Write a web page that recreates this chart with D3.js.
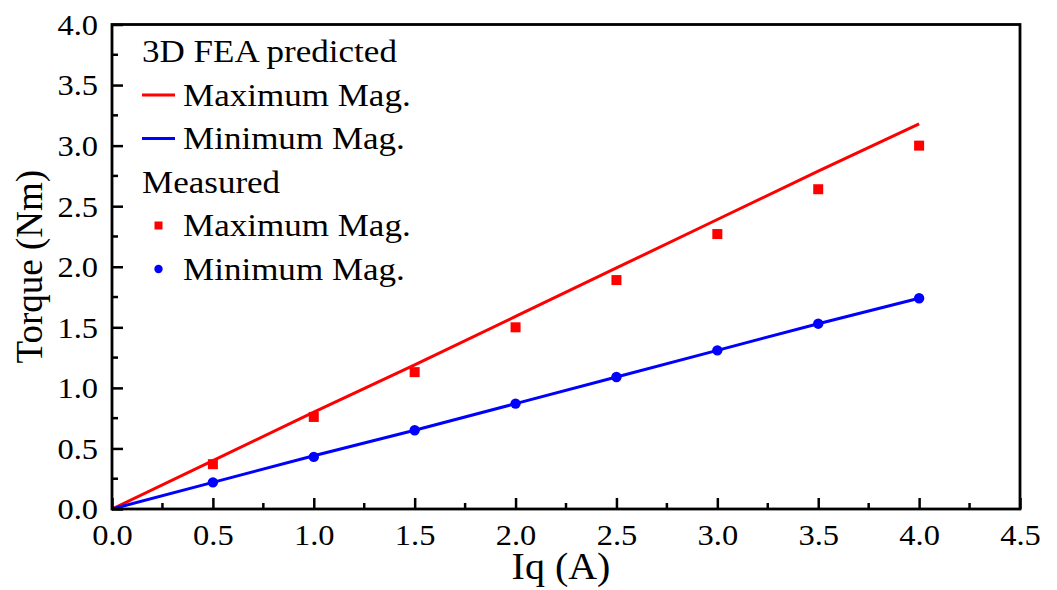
<!DOCTYPE html>
<html>
<head>
<meta charset="utf-8">
<script src="https://cdn.jsdelivr.net/npm/d3@7"></script>
<style>
  html, body { margin: 0; padding: 0; background: #ffffff; }
  svg { display: block; }
  text { font-family: "Liberation Serif", "Times New Roman", serif; fill: #000; }
</style>
</head>
<body>
<svg id="chart" width="1057" height="590"></svg>
<script>
// Current Iq (A) for the FEA curves, starting at the origin
const iqFea = [0, 0.5, 1.0, 1.5, 2.0, 2.5, 3.0, 3.5, 4.0];
// 3D FEA predicted torque (Nm)
const feaMax = [0, 0.40, 0.80, 1.19, 1.59, 1.99, 2.39, 2.79, 3.18];
const feaMin = [0, 0.22, 0.44, 0.65, 0.87, 1.09, 1.31, 1.53, 1.74];

// Measured torque (Nm)
const iqMeas = [0.5, 1.0, 1.5, 2.0, 2.5, 3.0, 3.5, 4.0];
const measMax = [0.37, 0.76, 1.13, 1.50, 1.89, 2.27, 2.64, 3.00];
const measMin = [0.22, 0.43, 0.65, 0.87, 1.09, 1.31, 1.53, 1.74];

// Axis ticks
const xTicks = [0, 0.5, 1.0, 1.5, 2.0, 2.5, 3.0, 3.5, 4.0, 4.5];
const yTicks = [0, 0.5, 1.0, 1.5, 2.0, 2.5, 3.0, 3.5, 4.0];
const xMinor = [0.25, 0.75, 1.25, 1.75, 2.25, 2.75, 3.25, 3.75, 4.25];
const yMinor = [0.25, 0.75, 1.25, 1.75, 2.25, 2.75, 3.25, 3.75];

const xTitle = "Iq (A)";
const yTitle = "Torque (Nm)";
const legendHeads = ["3D FEA predicted", "Measured"];
const seriesNames = ["Maximum Mag.", "Minimum Mag."];

const RED = "#ff0000", BLUE = "#0000ff";
const WIDE = 1.13; // horizontal widening of legend glyphs
const SERIF = "Liberation Serif";

const svg = d3.select("#chart");
const L = 112, R = 1020, T = 24.5, B = 509;

const x = d3.scaleLinear().domain([0, 4.5]).range([L, R]);
const y = d3.scaleLinear().domain([0, 4]).range([B, T]);

function widen(sel, k) {
  sel.each(function () {
    const len = this.getComputedTextLength();
    d3.select(this).attr("textLength", len * k).attr("lengthAdjust", "spacingAndGlyphs");
  });
}

// Data lines
const line = d3.line().x(d => x(d[0])).y(d => y(d[1]));
const plot = svg.append("g");
plot.append("path")
  .datum(iqFea.map((v, i) => [v, feaMax[i]]))
  .attr("d", line).attr("fill", "none").attr("stroke", RED).attr("stroke-width", 3);
plot.append("path")
  .datum(iqFea.map((v, i) => [v, feaMin[i]]))
  .attr("d", line).attr("fill", "none").attr("stroke", BLUE).attr("stroke-width", 3);

// Measured markers
const sq = 10;
plot.selectAll("rect.meas").data(iqMeas.map((v, i) => [v, measMax[i]])).enter()
  .append("rect").attr("class", "meas")
  .attr("x", d => x(d[0]) - sq / 2).attr("y", d => y(d[1]) - sq / 2)
  .attr("width", sq).attr("height", sq).attr("fill", RED);
plot.selectAll("circle.meas").data(iqMeas.map((v, i) => [v, measMin[i]])).enter()
  .append("circle").attr("class", "meas")
  .attr("cx", d => x(d[0])).attr("cy", d => y(d[1])).attr("r", 5.2).attr("fill", BLUE);

// Axes (ticks pointing inward)
const fmt = d3.format(".1f");
const xAxis = svg.append("g").attr("transform", `translate(0,${B})`)
  .call(d3.axisBottom(x).tickValues(xTicks).tickFormat(fmt).tickSizeInner(-11).tickSizeOuter(0).tickPadding(0));
const yAxis = svg.append("g").attr("transform", `translate(${L},0)`)
  .call(d3.axisLeft(y).tickValues(yTicks).tickFormat(fmt).tickSizeInner(-11).tickSizeOuter(0).tickPadding(0));
[xAxis, yAxis].forEach(a => {
  a.attr("font-family", SERIF);
  a.select(".domain").remove();
  a.selectAll(".tick line").attr("stroke", "#000").attr("stroke-width", 2.5);
  a.selectAll(".tick text").attr("font-size", 29).style("font-family", SERIF);
});
xAxis.selectAll(".tick text").attr("y", 36).attr("dy", null);
yAxis.selectAll(".tick text").attr("x", -14).attr("dy", "0.34em");
widen(xAxis.selectAll(".tick text"), 1.12);
widen(yAxis.selectAll(".tick text"), 1.12);

// Minor ticks
xAxis.selectAll("line.minor").data(xMinor).enter().append("line").attr("class", "minor")
  .attr("x1", d => x(d)).attr("x2", d => x(d)).attr("y1", 0).attr("y2", -6)
  .attr("stroke", "#000").attr("stroke-width", 2.5);
yAxis.selectAll("line.minor").data(yMinor).enter().append("line").attr("class", "minor")
  .attr("y1", d => y(d)).attr("y2", d => y(d)).attr("x1", 0).attr("x2", 6)
  .attr("stroke", "#000").attr("stroke-width", 2.5);

// Frame
svg.append("rect").attr("x", L).attr("y", T).attr("width", R - L).attr("height", B - T)
  .attr("fill", "none").attr("stroke", "#000").attr("stroke-width", 2.8);

// Axis titles
const xt = svg.append("text").attr("x", 561).attr("y", 579).attr("text-anchor", "middle")
  .attr("font-size", 37).text(xTitle);
widen(xt, 1.08);
svg.append("text").attr("transform", `translate(42,${(T + B) / 2}) rotate(-90)`)
  .attr("text-anchor", "middle").attr("font-size", 37).text(yTitle);

// Legend
const lg = svg.append("g");
const rowY = [62, 105.5, 149, 192.5, 236, 279.5];
const fs = 31;
const heads = [[legendHeads[0], rowY[0]], [legendHeads[1], rowY[3]]];
heads.forEach(([t, yy]) => {
  widen(lg.append("text").attr("x", 142).attr("y", yy).attr("font-size", fs).text(t), WIDE);
});
const items = [
  { kind: "line", color: RED, name: seriesNames[0], y: rowY[1] },
  { kind: "line", color: BLUE, name: seriesNames[1], y: rowY[2] },
  { kind: "square", color: RED, name: seriesNames[0], y: rowY[4] },
  { kind: "circle", color: BLUE, name: seriesNames[1], y: rowY[5] }
];
items.forEach(it => {
  const cy = it.y - 10.5;
  if (it.kind === "line") {
    lg.append("line").attr("x1", 142).attr("x2", 175).attr("y1", cy).attr("y2", cy)
      .attr("stroke", it.color).attr("stroke-width", 3);
  } else if (it.kind === "square") {
    lg.append("rect").attr("x", 158.5 - 4).attr("y", cy - 4).attr("width", 8).attr("height", 8)
      .attr("fill", it.color);
  } else {
    lg.append("circle").attr("cx", 158.5).attr("cy", cy).attr("r", 4.2).attr("fill", it.color);
  }
  widen(lg.append("text").attr("x", 183).attr("y", it.y).attr("font-size", fs).text(it.name), WIDE);
});
</script>
</body>
</html>
